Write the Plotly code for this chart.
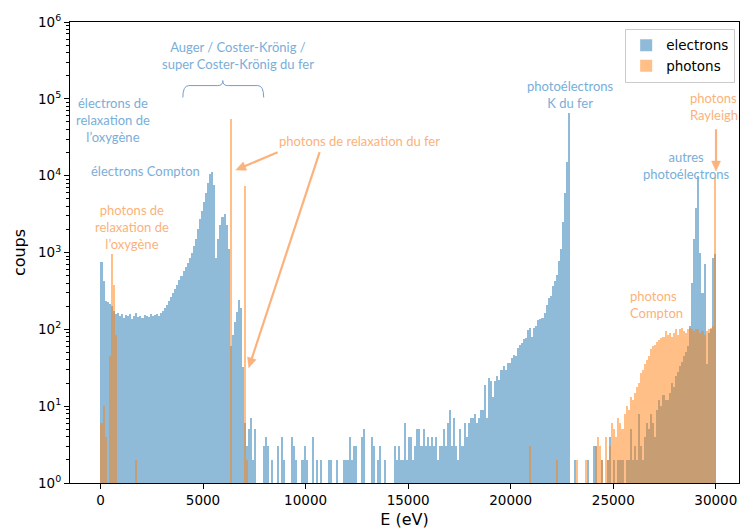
import math
import plotly.graph_objects as go

# ---- data: histogram of energies, 100 eV bins from 0 to 30000 eV ----
bin_start_eV = 0
bin_width_eV = 100

electrons = [
    750, 420, 235, 225, 215, 200, 175, 160, 165, 150,
    160, 140, 155, 150, 160, 135, 150, 165, 145, 150,
    140, 155, 150, 145, 160, 150, 155, 160, 150, 165,
    175, 190, 210, 235, 260, 300, 340, 380, 440, 500,
    580, 650, 720, 850, 1000, 1200, 1500, 2000, 2700, 3500,
    4500, 6000, 8000, 10500, 11000, 7500, 840, 1500, 2300, 2900,
    3200, 2300, 1100, 60, 85, 125, 170, 240, 190, 32,
    6, 3, 5, 7, 2, 5, 0, 0, 0, 3,
    4, 3, 0, 2, 0, 0, 3, 0, 4, 2,
    0, 0, 0, 4, 3, 2, 0, 0, 2, 3,
    2, 0, 0, 4, 0, 2, 0, 2, 0, 0,
    0, 2, 2, 0, 0, 2, 0, 0, 2, 2,
    2, 4, 2, 3, 3, 0, 0, 4, 5, 0,
    0, 0, 4, 3, 0, 2, 3, 0, 2, 0,
    0, 0, 0, 3, 2, 3, 2, 2, 6, 2,
    4, 4, 2, 3, 5, 5, 3, 5, 3, 4,
    3, 4, 3, 4, 2, 3, 3, 5, 3, 6,
    9, 3, 7, 3, 2, 5, 3, 6, 4, 6,
    7, 7, 8, 6, 7, 9, 9, 19, 7, 23,
    21, 13, 21, 25, 22, 30, 33, 30, 37, 36,
    42, 47, 45, 57, 62, 66, 75, 78, 99, 105,
    80, 104, 110, 134, 136, 140, 163, 208, 255, 275,
    365, 420, 510, 770, 1100, 2500, 6000, 15000, 66000, 0,
    0, 2, 0, 0, 0, 0, 0, 2, 0, 0,
    3, 3, 0, 0, 2, 0, 0, 2, 4, 0,
    2, 0, 2, 2, 2, 0, 2, 2, 5, 2,
    3, 2, 8, 3, 2, 4, 6, 5, 8, 6,
    4, 9, 12, 10, 14, 12, 12, 15, 20, 18,
    25, 28, 33, 38, 45, 50, 60, 110, 400, 1500,
    3800, 10000, 1000, 300, 700, 35, 90, 100, 850, 950,
]

photons = [
    6, 10, 4, 0, 45, 950, 380, 85, 0, 0,
    0, 0, 0, 0, 0, 0, 0, 2, 0, 0,
    0, 0, 0, 0, 0, 0, 0, 0, 0, 0,
    0, 0, 0, 0, 0, 0, 0, 0, 0, 0,
    0, 0, 0, 0, 0, 0, 0, 0, 0, 0,
    0, 0, 0, 0, 0, 0, 0, 0, 0, 0,
    0, 0, 0, 55000, 0, 0, 0, 0, 0, 0,
    7400, 2, 0, 0, 0, 0, 0, 0, 0, 0,
    0, 0, 0, 0, 0, 0, 0, 0, 0, 0,
    0, 0, 0, 0, 0, 0, 0, 0, 0, 0,
    0, 0, 0, 0, 0, 0, 0, 0, 0, 0,
    0, 0, 0, 0, 0, 0, 0, 0, 0, 0,
    0, 0, 0, 0, 0, 0, 0, 0, 0, 0,
    0, 0, 0, 0, 0, 0, 0, 0, 0, 0,
    0, 0, 0, 0, 0, 0, 0, 0, 0, 0,
    0, 0, 0, 0, 0, 0, 0, 0, 0, 0,
    0, 0, 0, 0, 0, 0, 0, 0, 0, 0,
    0, 0, 0, 0, 0, 0, 0, 0, 0, 0,
    0, 0, 0, 0, 0, 0, 0, 0, 0, 0,
    0, 0, 0, 0, 0, 0, 0, 0, 0, 0,
    0, 0, 0, 0, 0, 0, 0, 0, 0, 3,
    0, 0, 0, 0, 0, 0, 0, 0, 0, 0,
    0, 0, 2, 0, 0, 0, 0, 0, 0, 0,
    0, 0, 2, 0, 0, 0, 2, 0, 0, 0,
    0, 3, 4, 3, 2, 0, 4, 2, 3, 6,
    5, 4, 7, 6, 5, 8, 10, 9, 13, 12,
    15, 18, 20, 27, 30, 35, 40, 45, 55, 60,
    62, 68, 72, 78, 80, 95, 85, 90, 80, 90,
    100, 85, 100, 105, 95, 90, 100, 105, 100, 95,
    100, 100, 90, 95, 85, 95, 100, 105, 110, 9500,
]

x_ticks = [0, 5000, 10000, 15000, 20000, 25000, 30000]
y_ticks = [1, 10, 100, 1000, 10000, 100000, 1000000]
y_tick_labels = ["10<sup>0</sup>", "10<sup>1</sup>", "10<sup>2</sup>", "10<sup>3</sup>",
                 "10<sup>4</sup>", "10<sup>5</sup>", "10<sup>6</sup>"]

bin_centers = [bin_start_eV + bin_width_eV * (i + 0.5) for i in range(len(electrons))]

W, H = 742, 529
ML, MR, MT, MB = 70, 2, 22, 43
PW, PH = W - ML - MR, H - MT - MB


def px(xp):
    return (xp - ML) / PW


def py(yp):
    return (H - MB - yp) / PH


BLUE_T = "#7aaed8"
ORANGE_T = "#fbb27c"
FONT_T = "Lato"

fig = go.Figure()
fig.add_trace(go.Bar(x=bin_centers, y=electrons, width=bin_width_eV, name="electrons",
                     marker=dict(color="rgba(31,119,180,0.5)", line=dict(width=0))))
fig.add_trace(go.Bar(x=bin_centers, y=photons, width=bin_width_eV, name="photons",
                     marker=dict(color="rgba(255,127,14,0.5)", line=dict(width=0))))

minor_vals = [k * 10 ** n for n in range(6) for k in range(2, 10)]

fig.update_layout(
    width=W, height=H,
    margin=dict(l=ML, r=MR, t=MT, b=MB),
    barmode="overlay", bargap=0,
    paper_bgcolor="white", plot_bgcolor="white",
    font=dict(family="DejaVu Sans", size=13.5, color="black"),
    showlegend=True,
    legend=dict(x=px(626), y=py(29), xanchor="left", yanchor="top",
                bgcolor="white", bordercolor="#cccccc", borderwidth=1,
                font=dict(family="DejaVu Sans", size=13.5), itemwidth=30,
                tracegroupgap=0),
    xaxis=dict(range=[-1485, 31130], tickmode="array", tickvals=x_ticks,
               ticktext=[str(v) for v in x_ticks], ticks="outside", ticklen=5,
               tickcolor="black", showline=True, linecolor="black", linewidth=1.2,
               mirror=True, showgrid=False, zeroline=False,
               title=dict(text="E (eV)", standoff=8)),
    yaxis=dict(type="log", range=[0, 6], tickmode="array", tickvals=y_ticks,
               ticktext=y_tick_labels, ticks="outside", ticklen=5, tickcolor="black",
               minor=dict(tickmode="array", tickvals=minor_vals, ticks="outside",
                          ticklen=3, tickcolor="black"),
               showline=True, linecolor="black", linewidth=1.2, mirror=True,
               showgrid=False, zeroline=False,
               title=dict(text="coups", standoff=8)),
)


def text(t, x, y, color, align="center", xanchor="center"):
    fig.add_annotation(text=t, x=px(x), y=py(y), xref="paper", yref="paper",
                       showarrow=False, align=align, xanchor=xanchor, yanchor="middle",
                       font=dict(family=FONT_T, size=13, color=color))


text("Auger / Coster-Krönig /<br>super Coster-Krönig du fer", 238, 56, BLUE_T)
text("électrons de<br>relaxation de<br>l’oxygène", 113, 121, BLUE_T)
text("électrons Compton", 146, 172, BLUE_T)
text("photons de<br>relaxation de<br>l’oxygène", 132, 228, ORANGE_T)
text("photons de relaxation du fer", 277, 142, ORANGE_T, align="left", xanchor="left")
text("photoélectrons<br>K du fer", 571, 95, BLUE_T)
text("photons<br>Rayleigh", 689, 107, ORANGE_T, align="left", xanchor="left")
text("autres<br>photoélectrons", 687, 166, BLUE_T)
text("photons<br>Compton", 629, 306, ORANGE_T, align="left", xanchor="left")


def arrow(x0, y0, x1, y1, head_len=10.0, head_half=4.5):
    """Arrow drawn as a line plus a filled triangular head (pixel inputs)."""
    dx, dy = x1 - x0, y1 - y0
    L = math.hypot(dx, dy)
    ux, uy = dx / L, dy / L
    bx, by = x1 - ux * head_len, y1 - uy * head_len
    nx, ny = -uy, ux
    fig.add_shape(type="line", x0=px(x0), y0=py(y0), x1=px(bx + ux), y1=py(by + uy),
                  xref="paper", yref="paper", line=dict(color=ORANGE_T, width=2.2))
    pts = [(x1, y1), (bx + nx * head_half, by + ny * head_half),
           (bx - nx * head_half, by - ny * head_half)]
    path = "M " + " L ".join(f"{px(a)},{py(b)}" for a, b in pts) + " Z"
    fig.add_shape(type="path", path=path, xref="paper", yref="paper",
                  fillcolor=ORANGE_T, line=dict(color=ORANGE_T, width=0.5))


arrow(278, 153, 236, 171)
arrow(320, 153, 249, 370)
arrow(717, 130, 717, 172)

# curly brace under the Auger label
brace = (f"M {px(183)},{py(98)} Q {px(183)},{py(86)} {px(189)},{py(86)} "
         f"L {px(218)},{py(86)} Q {px(223)},{py(86)} {px(223)},{py(81)} "
         f"Q {px(223)},{py(86)} {px(228)},{py(86)} L {px(258)},{py(86)} "
         f"Q {px(264)},{py(86)} {px(264)},{py(98)}")
fig.add_shape(type="path", path=brace, xref="paper", yref="paper",
              line=dict(color="#6f9fd2", width=1))

fig.write_html("out.html", config={"displayModeBar": False},
               post_script="document.body.style.margin='0';"
                           "document.body.style.overflow='hidden';")
